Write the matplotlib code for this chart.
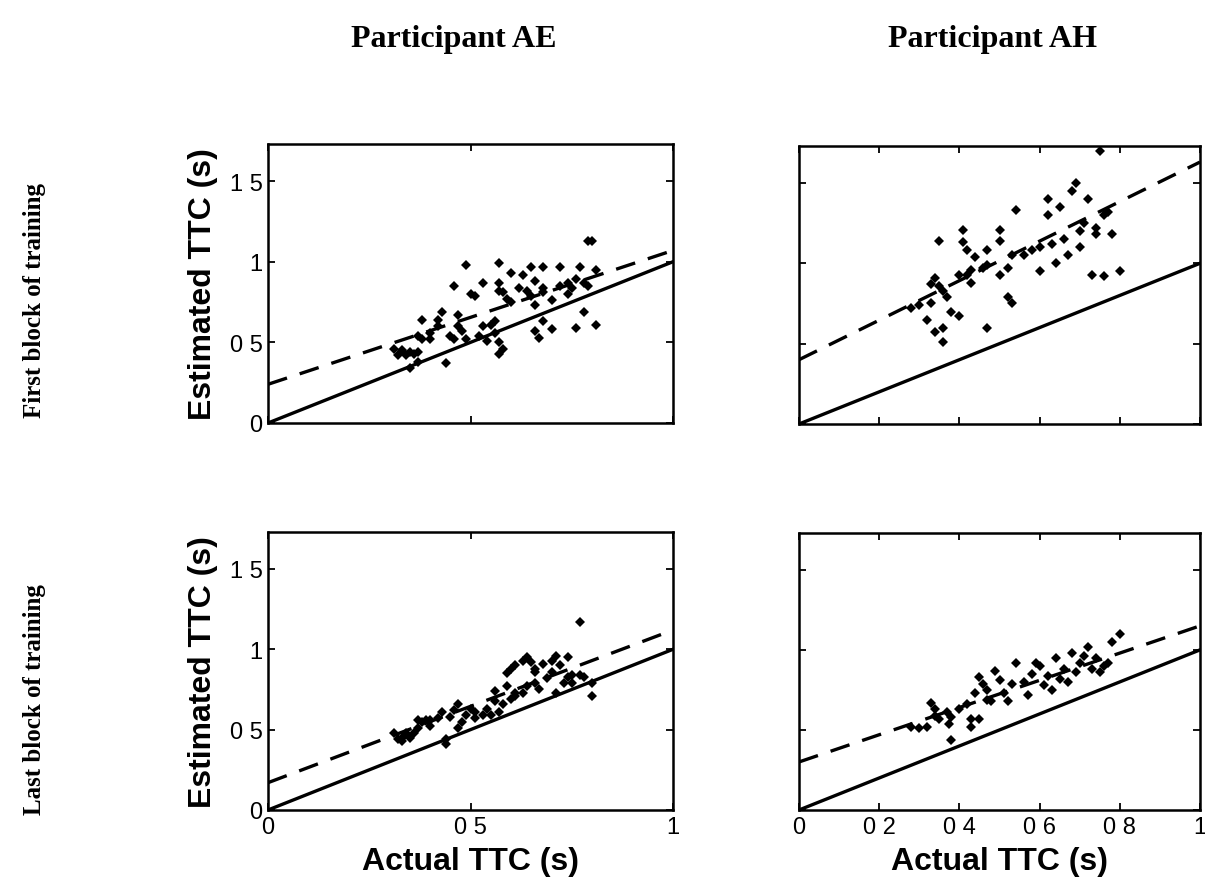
import matplotlib
matplotlib.use("Agg")
import matplotlib.pyplot as plt

# Top-left: participant AE, first block
ae_first_x = [0.49, 0.57, 0.46, 0.53, 0.50, 0.51, 0.57, 0.57, 0.60, 0.63, 0.65, 0.68, 0.72, 0.77,
              0.80, 0.79, 0.81, 0.66, 0.68, 0.68, 0.58, 0.59, 0.60, 0.62, 0.64, 0.65, 0.70, 0.66,
              0.72, 0.74, 0.75, 0.76, 0.78, 0.79, 0.74, 0.78, 0.76, 0.81, 0.68, 0.66, 0.67, 0.70,
              0.57, 0.58, 0.57, 0.56, 0.55, 0.53, 0.56, 0.54, 0.52, 0.47, 0.47, 0.48, 0.46, 0.45,
              0.49, 0.43, 0.42, 0.42, 0.40, 0.38, 0.38, 0.37, 0.44, 0.35, 0.33, 0.31, 0.32, 0.34,
              0.36, 0.37, 0.35, 0.37, 0.40]
ae_first_y = [0.98, 0.99, 0.85, 0.87, 0.80, 0.79, 0.87, 0.82, 0.93, 0.92, 0.97, 0.97, 0.97, 0.97,
              1.13, 1.13, 0.95, 0.88, 0.84, 0.81, 0.81, 0.77, 0.75, 0.84, 0.82, 0.79, 0.76, 0.73,
              0.85, 0.87, 0.84, 0.89, 0.87, 0.85, 0.80, 0.69, 0.59, 0.61, 0.63, 0.57, 0.53, 0.58,
              0.50, 0.46, 0.43, 0.63, 0.61, 0.60, 0.56, 0.51, 0.54, 0.67, 0.60, 0.57, 0.52, 0.54,
              0.52, 0.69, 0.64, 0.60, 0.56, 0.64, 0.52, 0.54, 0.37, 0.44, 0.45, 0.46, 0.42, 0.42,
              0.43, 0.44, 0.34, 0.38, 0.52]

# Top-right: participant AH, first block
ah_first_x = [0.35, 0.41, 0.41, 0.42, 0.44, 0.47, 0.50, 0.50, 0.54, 0.53, 0.52, 0.50, 0.47, 0.46,
              0.43, 0.42, 0.43, 0.40, 0.34, 0.35, 0.33, 0.36, 0.37, 0.33, 0.28, 0.30, 0.32, 0.38,
              0.40, 0.36, 0.34, 0.36, 0.47, 0.52, 0.53,
              0.56, 0.58, 0.60, 0.62, 0.63, 0.65, 0.66, 0.68, 0.70, 0.71, 0.72, 0.74, 0.75, 0.76,
              0.78, 0.60, 0.64, 0.67, 0.70, 0.73, 0.76, 0.80, 0.62, 0.69, 0.74, 0.77]
ah_first_y = [1.14, 1.21, 1.13, 1.08, 1.04, 1.08, 1.14, 1.21, 1.33, 1.05, 0.97, 0.93, 0.99, 0.97,
              0.96, 0.93, 0.88, 0.93, 0.91, 0.86, 0.87, 0.83, 0.79, 0.75, 0.72, 0.74, 0.65, 0.70,
              0.67, 0.60, 0.57, 0.51, 0.60, 0.79, 0.75,
              1.05, 1.08, 1.10, 1.30, 1.12, 1.35, 1.15, 1.45, 1.20, 1.25, 1.40, 1.22, 1.70, 1.30,
              1.18, 0.95, 1.00, 1.05, 1.10, 0.93, 0.92, 0.95, 1.40, 1.50, 1.18, 1.32]

# Bottom-left: participant AE, last block
ae_last_x = [0.77, 0.80, 0.64, 0.63, 0.61, 0.59, 0.60, 0.65, 0.66, 0.66, 0.68, 0.70, 0.71, 0.72,
             0.74, 0.74, 0.75, 0.77, 0.75, 0.70, 0.69, 0.67, 0.66, 0.64, 0.63, 0.61, 0.60, 0.58,
             0.59, 0.61, 0.56, 0.56, 0.71, 0.80, 0.57, 0.54, 0.53, 0.55, 0.51, 0.51, 0.50, 0.49,
             0.48, 0.47, 0.46, 0.47, 0.45, 0.43, 0.42, 0.40, 0.38, 0.37, 0.37, 0.36, 0.34, 0.33,
             0.31, 0.32, 0.33, 0.35, 0.44, 0.44, 0.40, 0.39, 0.78, 0.73]
ae_last_y = [1.17, 0.71, 0.95, 0.93, 0.90, 0.85, 0.88, 0.92, 0.88, 0.86, 0.91, 0.93, 0.96, 0.90,
             0.95, 0.83, 0.84, 0.84, 0.79, 0.86, 0.82, 0.75, 0.79, 0.77, 0.73, 0.71, 0.69, 0.66,
             0.77, 0.73, 0.74, 0.68, 0.73, 0.79, 0.61, 0.63, 0.59, 0.59, 0.61, 0.57, 0.63, 0.59,
             0.55, 0.66, 0.62, 0.51, 0.58, 0.61, 0.57, 0.56, 0.55, 0.56, 0.51, 0.48, 0.48, 0.45,
             0.48, 0.44, 0.43, 0.45, 0.41, 0.44, 0.52, 0.56, 0.83, 0.79]

# Bottom-right: participant AH, last block
ah_last_x = [0.28, 0.30, 0.32, 0.33, 0.34, 0.34, 0.35, 0.37, 0.375, 0.38, 0.38, 0.40, 0.42, 0.43,
             0.43, 0.45, 0.44, 0.47, 0.47, 0.49, 0.50, 0.51, 0.52, 0.53, 0.54, 0.46, 0.45, 0.48,
             0.56, 0.58, 0.60, 0.62, 0.64, 0.66, 0.68, 0.70, 0.72, 0.74, 0.76, 0.78, 0.80, 0.57,
             0.61, 0.65, 0.69, 0.73, 0.77, 0.59, 0.63, 0.67, 0.71, 0.75]
ah_last_y = [0.52, 0.51, 0.52, 0.67, 0.63, 0.59, 0.57, 0.61, 0.54, 0.58, 0.44, 0.63, 0.66, 0.57,
             0.52, 0.57, 0.73, 0.75, 0.69, 0.87, 0.81, 0.73, 0.68, 0.79, 0.92, 0.79, 0.83, 0.68,
             0.80, 0.85, 0.90, 0.84, 0.95, 0.88, 0.98, 0.92, 1.02, 0.95, 0.90, 1.05, 1.10, 0.72,
             0.78, 0.82, 0.86, 0.88, 0.92, 0.92, 0.75, 0.80, 0.96, 0.86]

# dashed regression lines: intercept, slope
fit_lines = {"ae_first": (0.24, 0.83), "ah_first": (0.40, 1.23),
             "ae_last": (0.17, 0.95), "ah_last": (0.30, 0.85)}

col_titles = ["Participant AE", "Participant AH"]
row_titles = ["First block of training", "Last block of training"]
left_xticks = [0, 0.5, 1]
left_xlabels = ["0", "0 5", "1"]
right_xticks = [0, 0.2, 0.4, 0.6, 0.8, 1]
right_xlabels = ["0", "0 2", "0 4", "0 6", "0 8", "1"]
yticks = [0, 0.5, 1, 1.5]
ylabels = ["0", "0 5", "1", "1 5"]

sans = ["Liberation Sans Narrow", "Liberation Sans", "DejaVu Sans"]
serif = ["Liberation Serif", "DejaVu Serif"]

fig = plt.figure(figsize=(12.05, 8.87), dpi=100)

panels = [
    ("ae_first", ae_first_x, ae_first_y, [268, 145, 405, 279], True, False),
    ("ah_first", ah_first_x, ah_first_y, [799, 147, 401, 278], False, False),
    ("ae_last", ae_last_x, ae_last_y, [268, 533, 405, 278], True, True),
    ("ah_last", ah_last_x, ah_last_y, [799, 534, 401, 277], False, True),
]

W, H = 1205, 887
for key, xs, ys, (px, py, pw, ph), is_left, is_bottom in panels:
    ax = fig.add_axes([px / W, 1 - (py + ph) / H, pw / W, ph / H])
    ax.plot(xs, ys, "D", color="black", ms=5, mew=0)
    ax.plot([0, 1], [0, 1], "-", color="black", lw=2.4)
    b, m = fit_lines[key]
    ax.plot([0, 1], [b, b + m], "--", color="black", lw=2.4, dashes=(6, 4))
    ax.set_xlim(0, 1)
    ax.set_ylim(0, 1.73)
    for s in ax.spines.values():
        s.set_linewidth(1.8)
    ax.tick_params(direction="in", length=5, width=1.3, top=True, right=True,
                   labelsize=17, pad=4)
    if is_left:
        ax.set_xticks(left_xticks)
        ax.set_xticklabels(left_xlabels if is_bottom else [], family=sans)
        ax.set_yticks(yticks)
        ax.set_yticklabels(ylabels, family=sans)
        ax.set_ylabel("Estimated TTC (s)", fontsize=23, fontweight="bold",
                      family=sans, labelpad=8)
    else:
        ax.set_xticks(right_xticks)
        ax.set_xticklabels(right_xlabels if is_bottom else [], family=sans)
        ax.set_yticks(yticks)
        ax.set_yticklabels([])
    if is_bottom:
        ax.set_xlabel("Actual TTC (s)", fontsize=23, fontweight="bold",
                      family=sans, labelpad=6)

fig.text(454 / W, 1 - 40 / H, col_titles[0], ha="center", va="center",
         fontsize=23, fontweight="bold", family=serif)
fig.text(992 / W, 1 - 40 / H, col_titles[1], ha="center", va="center",
         fontsize=23, fontweight="bold", family=serif)
fig.text(35 / W, 1 - 300 / H, row_titles[0], ha="center", va="center", rotation=90,
         fontsize=18, fontweight="bold", family=serif)
fig.text(35 / W, 1 - 700 / H, row_titles[1], ha="center", va="center", rotation=90,
         fontsize=18, fontweight="bold", family=serif)

fig.savefig("out.png", dpi=100, facecolor="white")
